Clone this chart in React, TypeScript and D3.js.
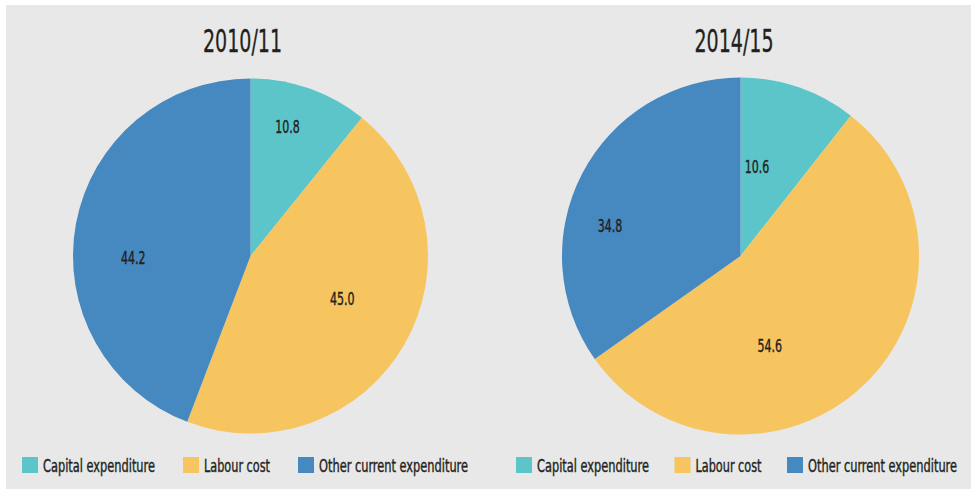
import React from "react";
import * as d3 from "d3";

// ---- data ----
const categories = ["Capital expenditure", "Labour cost", "Other current expenditure"];
const years = ["2010/11", "2014/15"];
const values2010 = [10.8, 45.0, 44.2];
const values2014 = [10.6, 54.6, 34.8];

// ---- styles / layout ----
const W = 971;
const H = 489;
const colors = ["#5bc5c9", "#f6c55f", "#4688c0"];
const FONT = "'Liberation Sans Narrow', 'DejaVu Sans Condensed', 'Arial Narrow', sans-serif";
const TEXT = "#231f20";
const legendTextWidths = [112, 66, 149];
// label placement per pie: [angle shift (deg) from slice middle, radius fraction]
const labelPlacement = [
  [[-3.5, 0.76], [-5, 0.57], [-11, 0.66]],
  [[-8.7, 0.51], [25.5, 0.53], [-14.4, 0.75]],
];
const pies = [
  { cx: 250.5, cy: 256, r: 177.5, titleX: 242.5, legendX: 22, legendGap: 28, values: values2010 },
  { cx: 740.5, cy: 256, r: 178.5, titleX: 734, legendX: 516, legendGap: 25.5, values: values2014 },
];

function Pie({ idx }: { idx: number }) {
  const p = pies[idx];
  const pieGen = d3.pie<number>().sort(null).value((d) => d);
  const arcs = pieGen(p.values);
  const arcGen = d3.arc<d3.PieArcDatum<number>>().innerRadius(0).outerRadius(p.r);
  const fmt = d3.format(".1f");
  return (
    <g>
      <text
        x={p.titleX}
        y={52}
        textAnchor="middle"
        fontFamily={FONT}
        fontSize={32}
        fill={TEXT}
        stroke={TEXT}
        strokeWidth={0.3}
        textLength={79}
        lengthAdjust="spacingAndGlyphs"
      >
        {years[idx]}
      </text>
      <g transform={`translate(${p.cx},${p.cy})`}>
        {arcs.map((a, i) => (
          <path key={i} d={arcGen(a) || ""} fill={colors[i]} />
        ))}
        {arcs.map((a, i) => {
          const [shift, frac] = labelPlacement[idx][i];
          const ang = (a.startAngle + a.endAngle) / 2 + (shift * Math.PI) / 180;
          const rr = p.r * frac;
          const x = Math.sin(ang) * rr;
          const y = -Math.cos(ang) * rr;
          return (
            <text
              key={i}
              x={x}
              y={y + 6.5}
              textAnchor="middle"
              fontFamily={FONT}
              fontSize={18}
              fill={TEXT}
              stroke={TEXT}
              strokeWidth={0.4}
              textLength={24.5}
              lengthAdjust="spacingAndGlyphs"
            >
              {fmt(a.data)}
            </text>
          );
        })}
      </g>
      <g>
        {(() => {
          let x = p.legendX;
          return categories.map((c, i) => {
            const x0 = x;
            x += 21 + legendTextWidths[i] + p.legendGap;
            return (
              <g key={c}>
                <rect x={x0} y={457} width={16} height={16} fill={colors[i]} />
                <text
                  x={x0 + 21}
                  y={471.5}
                  fontFamily={FONT}
                  fontSize={18}
                  fill={TEXT}
                  stroke={TEXT}
                  strokeWidth={0.4}
                  textLength={legendTextWidths[i]}
                  lengthAdjust="spacingAndGlyphs"
                >
                  {c}
                </text>
              </g>
            );
          });
        })()}
      </g>
    </g>
  );
}

export default function App() {
  return (
    <svg
      width={W}
      height={H}
      style={{ position: "absolute", left: 0, top: 0, display: "block" }}
    >
      <rect x={0} y={0} width={W} height={H} fill="#ffffff" />
      <rect x={6} y={5} width={W - 6} height={H - 5} fill="#e7e8e7" />
      <Pie idx={0} />
      <Pie idx={1} />
    </svg>
  );
}
